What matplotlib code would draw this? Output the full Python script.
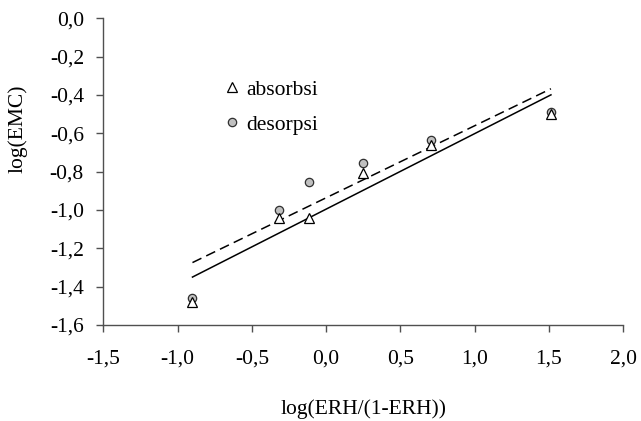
import matplotlib
matplotlib.use("Agg")
import matplotlib.pyplot as plt
import numpy as np

# data
x_vals = [-0.90, -0.32, -0.116, 0.245, 0.705, 1.513]
absorbsi = [-1.48, -1.04, -1.04, -0.805, -0.663, -0.50]
desorpsi = [-1.46, -1.00, -0.854, -0.756, -0.636, -0.487]

xticks = [-1.5, -1.0, -0.5, 0.0, 0.5, 1.0, 1.5, 2.0]
yticks = [0.0, -0.2, -0.4, -0.6, -0.8, -1.0, -1.2, -1.4, -1.6]

plt.rcParams['font.family'] = ['Liberation Serif', 'DejaVu Serif']
fs = 15.5

fig = plt.figure(figsize=(6.41, 4.21), dpi=100)
ax = fig.add_axes([0.1612, 0.228, 0.8112, 0.7285])

x = np.array(x_vals)
# linear fits
for ys, ls in [(absorbsi, '-'), (desorpsi, '--')]:
    k, b = np.polyfit(x, ys, 1)
    xx = np.array([x.min(), x.max()])
    line, = ax.plot(xx, k * xx + b, color='black', lw=1.1, ls=ls, zorder=2)
    if ls == '--':
        line.set_dashes((6.5, 3.5))

ax.plot(x, desorpsi, 'o', ms=6, mfc='#c0c0c0', mec='#303030', mew=0.9,
        ls='none', label='desorpsi', zorder=3)
ax.plot(x, absorbsi, '^', ms=6.5, mfc='white', mec='black', mew=0.9,
        ls='none', label='absorbsi', zorder=4)

ax.set_xlim(-1.5, 2.0)
ax.set_ylim(-1.6, 0.0)
ax.set_xticks(xticks)
ax.set_yticks(yticks)
ax.set_xticklabels([f"{t:.1f}".replace('.', ',') for t in xticks], fontsize=fs)
ax.set_yticklabels([f"{t:.1f}".replace('.', ',') for t in yticks], fontsize=fs)

for s in ['top', 'right']:
    ax.spines[s].set_visible(False)
for s in ['left', 'bottom']:
    ax.spines[s].set_color('#505050')
    ax.spines[s].set_linewidth(1.0)
ax.tick_params(axis='both', direction='out', length=5, width=1.0, color='#505050')
ax.tick_params(axis='x', pad=13)
ax.tick_params(axis='y', pad=9)

ax.set_xlabel('log(ERH/(1-ERH))', fontsize=fs, labelpad=22)
ax.set_ylabel('log(EMC)', fontsize=fs)
ax.yaxis.set_label_coords(-0.145, 0.64)

h, l = ax.get_legend_handles_labels()
ax.legend(h[::-1], l[::-1], loc='upper left', bbox_to_anchor=(0.226, 0.80),
          frameon=False, fontsize=fs, borderpad=0, handlelength=1.0,
          handletextpad=0.2, labelspacing=0.69, borderaxespad=0)

fig.savefig('out.png', dpi=100)
